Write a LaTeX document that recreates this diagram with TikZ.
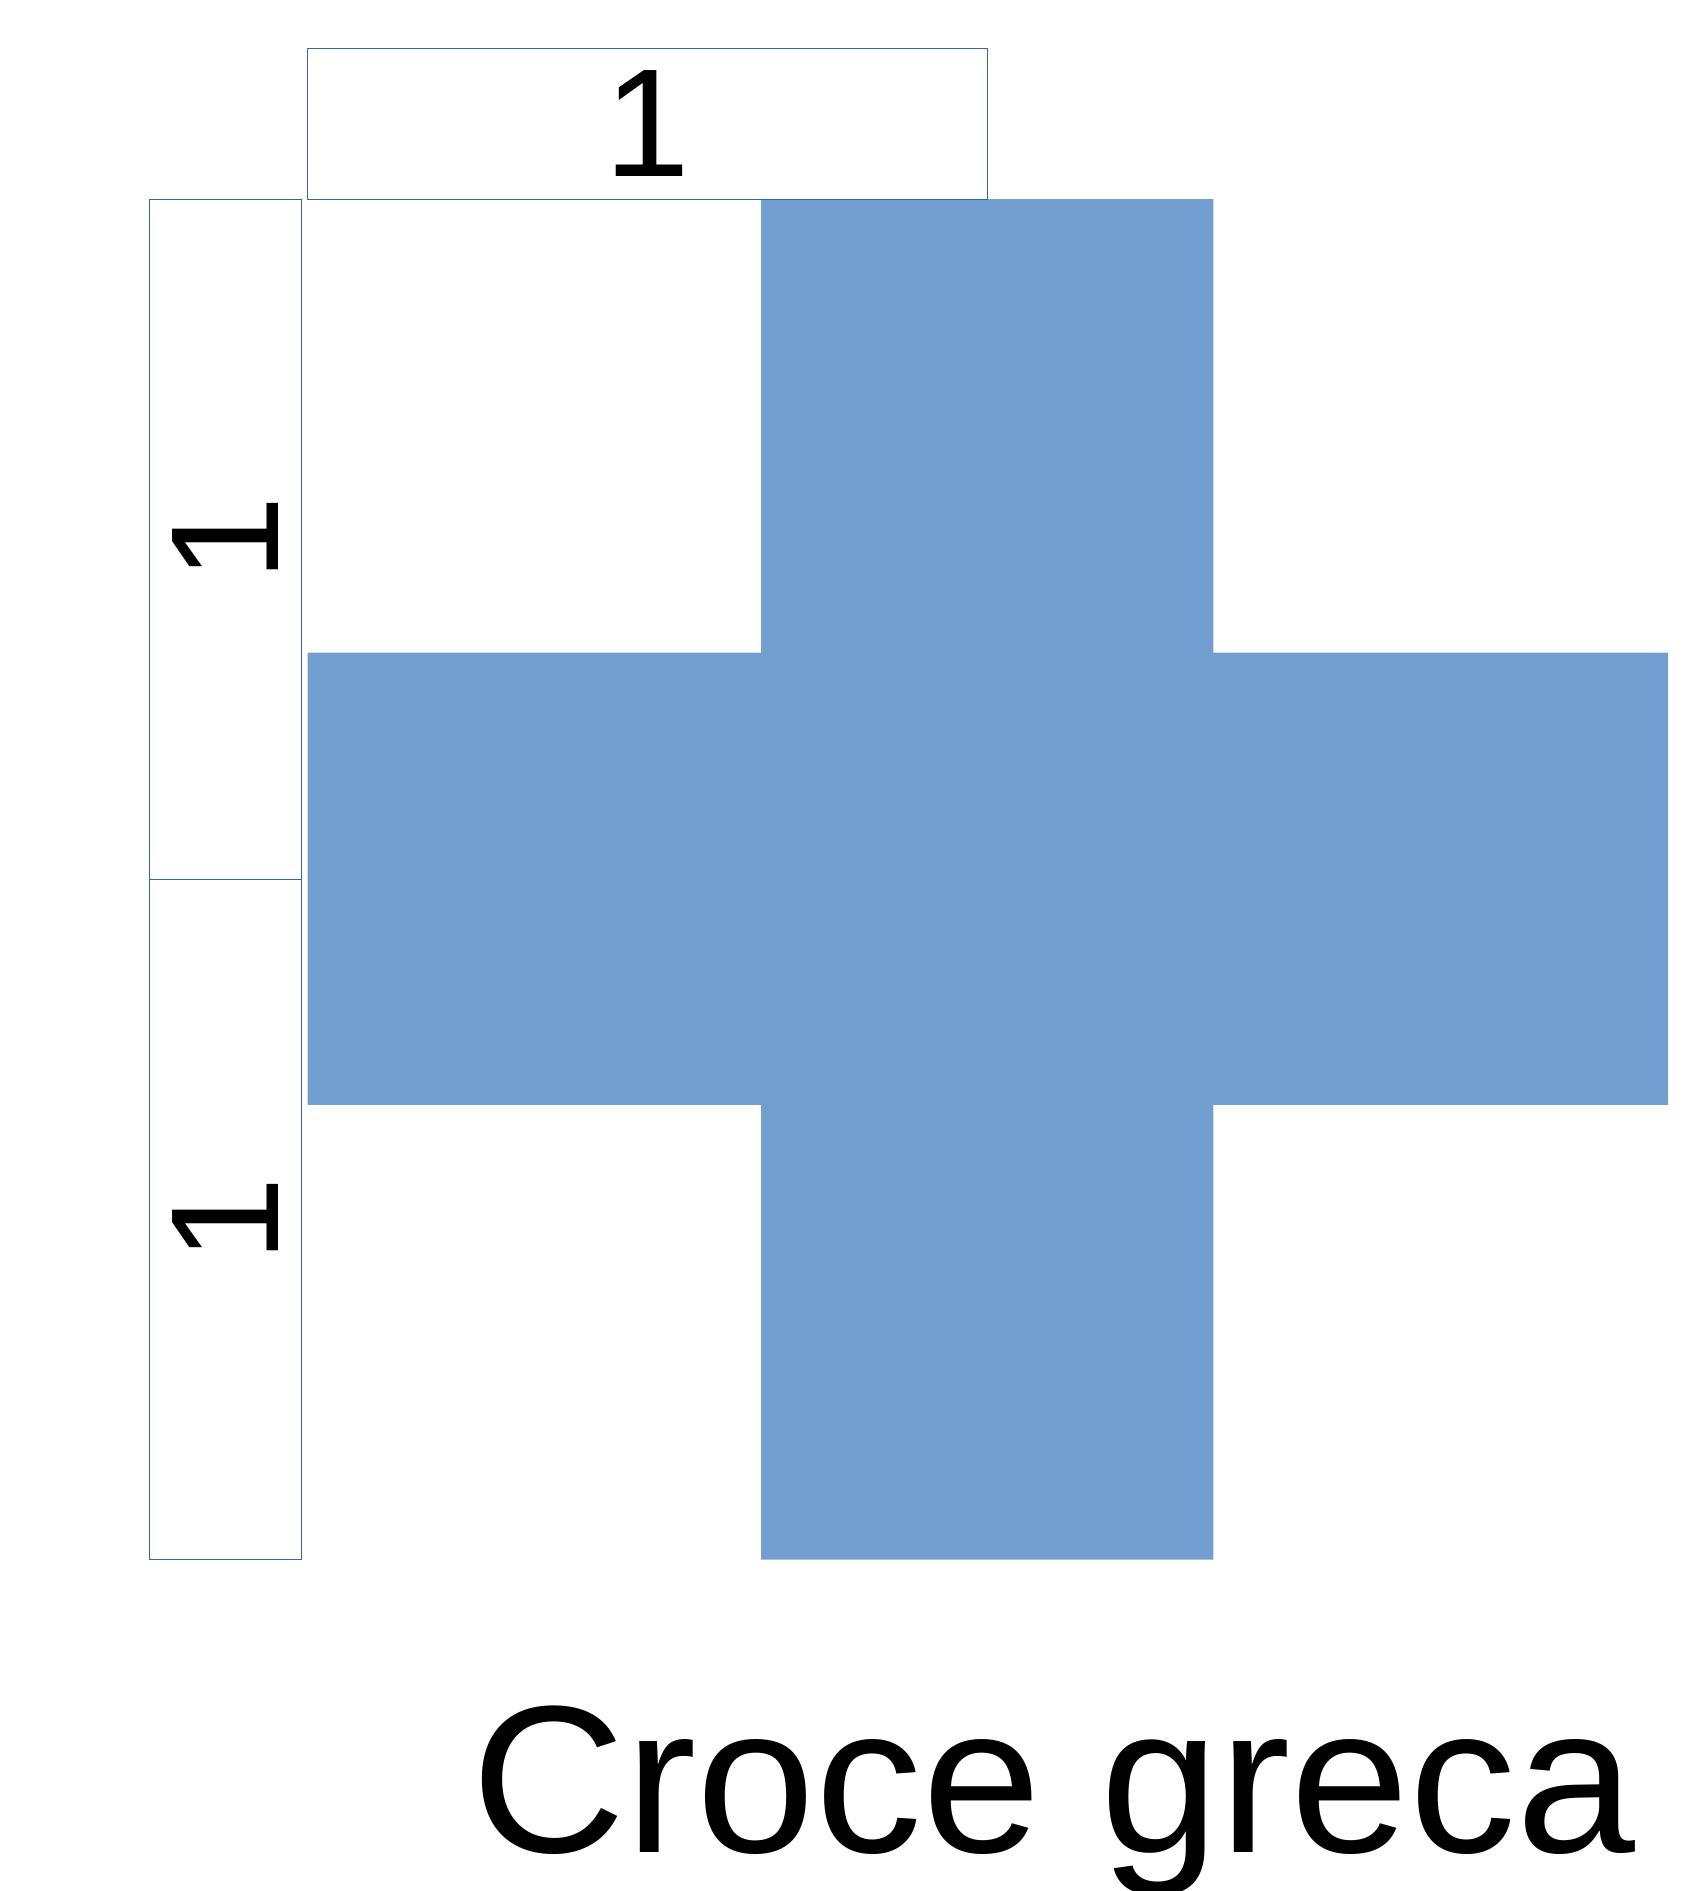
\documentclass[tikz,border=0pt]{standalone}
\usepackage{fontspec}
\setmainfont{Liberation Sans}
\definecolor{crossblue}{HTML}{729FCF}
\definecolor{measureblue}{HTML}{3465A4}

\begin{document}
\begin{tikzpicture}[x=0.5pt,y=-0.5pt,
    measure/.style={draw=measureblue,line width=0.5pt,inner sep=0pt,
      font=\fontsize{77}{77}\selectfont}]
    \useasboundingbox (0,0) rectangle (1703,1891);

    % la croce
    \fill[crossblue] (761,199) -- (1213.3,199) -- (1213.3,652.5) -- (1668,652.5)
      -- (1668,1104.8) -- (1213.3,1104.8) -- (1213.3,1559.5) -- (761,1559.5)
      -- (761,1104.8) -- (307.6,1104.8) -- (307.6,652.5) -- (761,652.5) -- cycle;

    % misure
    \node[measure,minimum width=340.1pt,minimum height=75.4pt] (top) at (647.7,123.6) {1};
    \node[measure,rotate=90,minimum width=340.1pt,minimum height=75.95pt] (left1) at (225.5,539.1) {1};
    \node[measure,rotate=90,minimum width=340.1pt,minimum height=75.95pt] (left2) at (225.5,1219.3) {1};

    \node[anchor=base west,inner sep=0pt,font=\fontsize{105}{105}\selectfont] (title) at (471,1852) {\scalebox{1.018}[1]{Croce greca}};
\end{tikzpicture}
\end{document}
